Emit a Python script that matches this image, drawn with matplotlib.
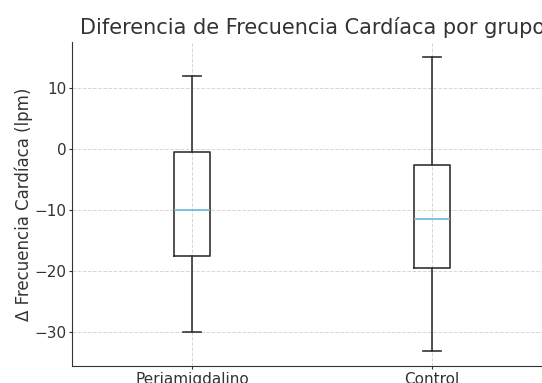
import matplotlib.pyplot as plt

# valores
grupos = ["Periamigdalino", "Control"]
minimos = [-30.0, -33.1]
q1 = [-17.5, -19.5]
medianas = [-10.0, -11.5]
q3 = [-0.5, -2.6]
maximos = [12.0, 15.1]

stats = []
for i, g in enumerate(grupos):
    stats.append({"label": g, "whislo": minimos[i], "q1": q1[i], "med": medianas[i],
                  "q3": q3[i], "whishi": maximos[i], "fliers": []})

fig = plt.figure(figsize=(5.42, 3.83), dpi=100)
ax = fig.add_axes([0.133, 0.044, 0.886, 0.846])

gris = '#333333'
ax.bxp(stats, showfliers=False,
       boxprops=dict(color=gris, linewidth=1.2),
       whiskerprops=dict(color=gris, linewidth=1.2),
       capprops=dict(color=gris, linewidth=1.2),
       medianprops=dict(color='#6BB5E0', linewidth=1.2))

ax.set_title('Diferencia de Frecuencia Cardíaca por grupo', fontsize=15, color=gris)
ax.set_ylabel('Δ Frecuencia Cardíaca (lpm)', fontsize=12, color=gris, labelpad=1)
ax.tick_params(labelsize=11, colors=gris, length=2.5, pad=1.5)
ax.grid(True, linestyle='--', color='#cccccc', linewidth=0.7, alpha=0.8)
ax.spines['top'].set_visible(False)
ax.spines['right'].set_visible(False)
ax.spines['left'].set_color(gris)
ax.spines['bottom'].set_color(gris)

plt.savefig('out.png', dpi=100)
